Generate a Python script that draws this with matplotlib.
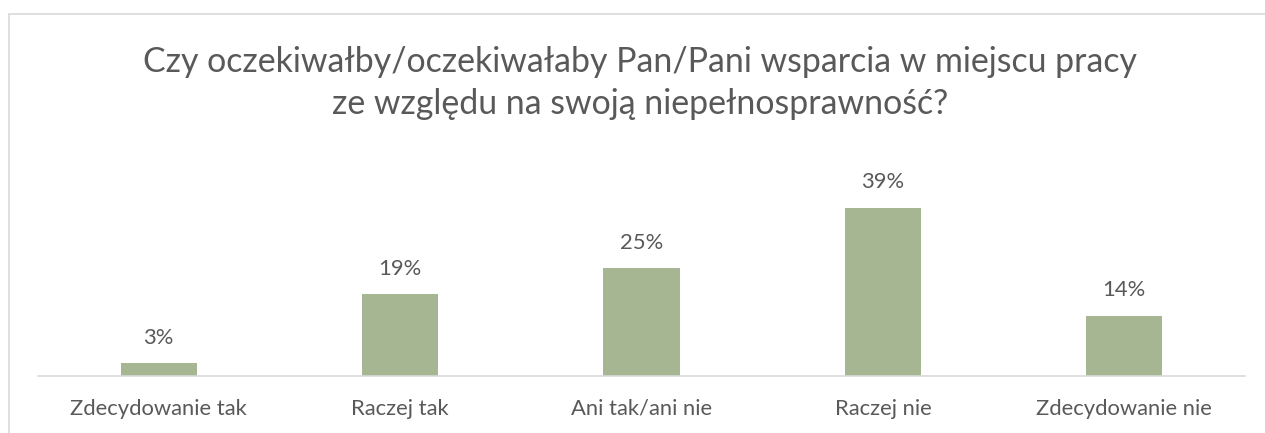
import matplotlib
matplotlib.use("Agg")
import matplotlib.pyplot as plt
from matplotlib.patches import Rectangle

categories = ["Zdecydowanie tak", "Raczej tak", "Ani tak/ani nie", "Raczej nie", "Zdecydowanie nie"]
values = [3, 19, 25, 39, 14]
title_lines = ["Czy oczekiwałby/oczekiwałaby Pan/Pani wsparcia w miejscu pracy",
               "ze względu na swoją niepełnosprawność?"]

W, H = 1265, 433
fig = plt.figure(figsize=(W / 100, H / 100), dpi=100)
plt.rcParams['font.family'] = ['Lato', 'DejaVu Sans']

# outer chart border
fig.patches.append(Rectangle((9 / W, -0.01), 1.1, (H - 14) / H + 0.01, transform=fig.transFigure,
                             fill=False, edgecolor="#D9D9D9", linewidth=1.2))

ax_left, ax_right, ax_bottom, ax_top = 38, 1245, 376, 160
ax = fig.add_axes([ax_left / W, 1 - ax_bottom / H, (ax_right - ax_left) / W, (ax_bottom - ax_top) / H])
x = list(range(len(categories)))
bars = ax.bar(x, values, width=0.315, color="#A6B592")
ax.set_xlim(-0.5, len(categories) - 0.5)
ax.set_ylim(0, 50)
for s in ["top", "right", "left"]:
    ax.spines[s].set_visible(False)
ax.spines["bottom"].set_color("#D9D9D9")
ax.spines["bottom"].set_linewidth(1.2)
ax.set_yticks([])
ax.set_xticks(x)
ax.set_xticklabels(categories, fontsize=15.8, color="#595959")
ax.tick_params(axis="x", length=0, pad=16.5)
for xi, v in zip(x, values):
    ax.annotate(f"{v}%", (xi, v), xytext=(0, 11), textcoords="offset points",
                ha="center", va="bottom", fontsize=15.8, color="#595959")

for line, base in zip(title_lines, [72, 114]):
    fig.text(0.506, 1 - base / H, line, ha="center", va="baseline", fontsize=24.4, color="#595959")

fig.savefig("out.png", dpi=100)
